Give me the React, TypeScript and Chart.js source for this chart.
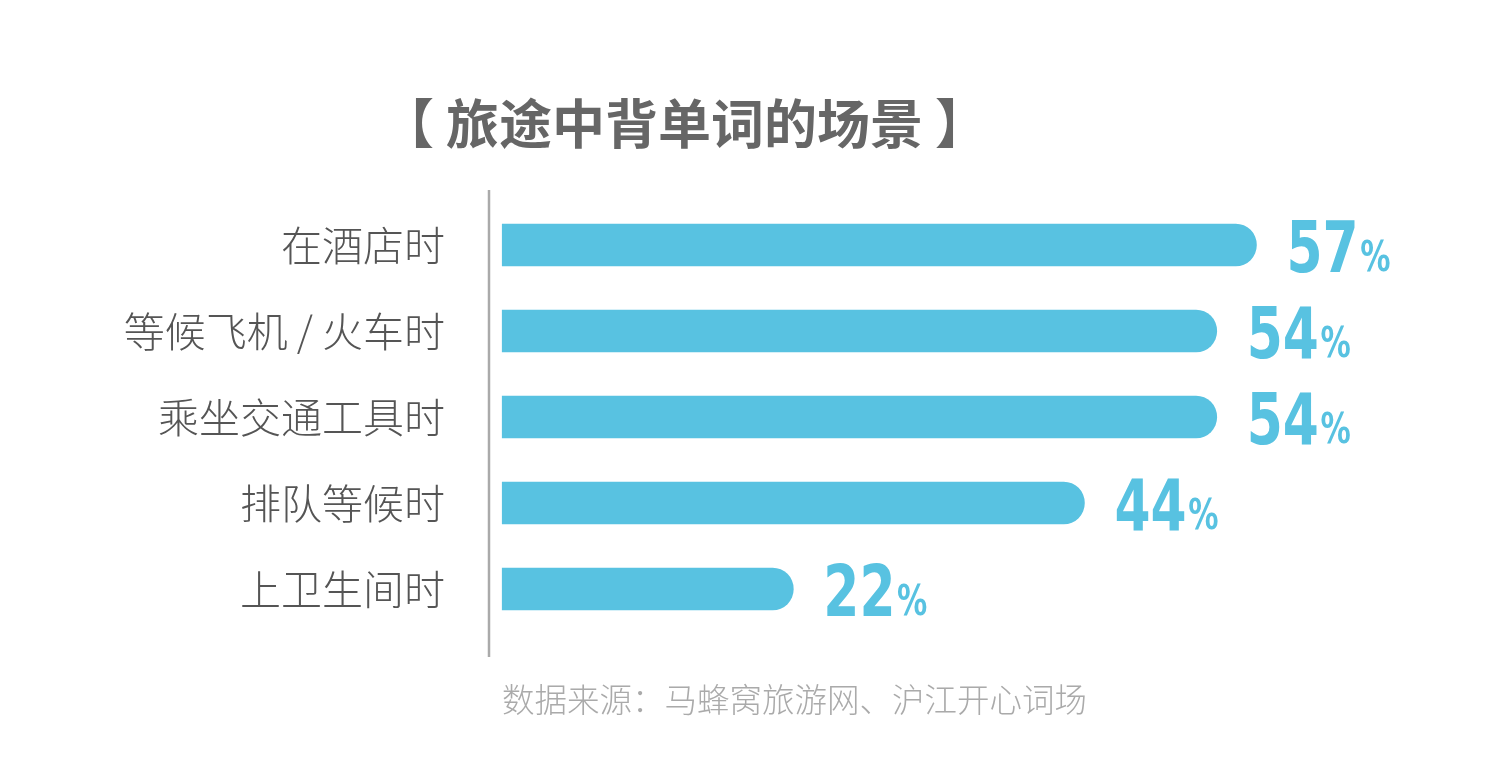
import { useEffect, useRef } from "react";
import Chart from "chart.js/auto";

const scenes = ["在酒店时", "等候飞机 / 火车时", "乘坐交通工具时", "排队等候时", "上卫生间时"];
const shares = [57, 54, 54, 44, 22];

const title = "【 旅途中背单词的场景 】";
const source = "数据来源：马蜂窝旅游网、沪江开心词场";

const barColor = "#58C2E1";
const cjk = '"Noto Sans CJK SC", "Noto Sans", sans-serif';
const narrow = '"Liberation Sans Narrow", "DejaVu Sans Condensed", sans-serif';

const decorPlugin = {
  id: "decor",
  afterDraw(chart: any) {
    const { ctx, chartArea } = chart;
    ctx.save();

    // title and source line
    ctx.fillStyle = "#666666";
    ctx.font = `bold 53px ${cjk}`;
    ctx.textAlign = "left";
    ctx.textBaseline = "middle";
    ctx.fillText(title, 381, 124);

    ctx.fillStyle = "#AAAAAA";
    ctx.font = `300 32.5px ${cjk}`;
    ctx.fillText(source, 502, 700);

    // axis line, longer than the bar rows
    ctx.strokeStyle = "#AAAAAA";
    ctx.lineWidth = 2.5;
    ctx.beginPath();
    ctx.moveTo(chartArea.left, 190);
    ctx.lineTo(chartArea.left, 657);
    ctx.stroke();

    // value labels
    const meta = chart.getDatasetMeta(0);
    ctx.fillStyle = barColor;
    ctx.textBaseline = "alphabetic";
    meta.data.forEach((bar: any, i: number) => {
      const x = bar.x + 30;
      const y = bar.y + 27;
      ctx.save();
      ctx.translate(x, y);
      ctx.scale(0.8, 1);
      ctx.font = `bold 72px ${narrow}`;
      const num = String(shares[i]);
      ctx.fillText(num, 0, 0);
      const w = ctx.measureText(num).width;
      ctx.font = `bold 42px ${narrow}`;
      ctx.fillText("%", w + 2, -1);
      ctx.restore();
    });

    ctx.restore();
  },
};

export default function App() {
  const canvasRef = useRef<HTMLCanvasElement>(null);

  useEffect(() => {
    if (!canvasRef.current) return;
    const chart = new Chart(canvasRef.current, {
      type: "bar",
      data: {
        labels: scenes,
        datasets: [
          {
            data: shares,
            backgroundColor: barColor,
            barThickness: 42,
            borderRadius: 21,
            borderSkipped: "start",
          },
        ],
      },
      options: {
        indexAxis: "y",
        animation: false,
        responsive: false,
        layout: { padding: { top: 202, bottom: 150, left: 0, right: 98 } },
        plugins: {
          legend: { display: false },
          tooltip: { enabled: false },
          title: { display: false },
        },
        scales: {
          x: {
            display: false,
            min: -1,
            max: 68,
          },
          y: {
            grid: { display: false, drawTicks: false },
            border: { display: false },
            afterFit: (s: any) => {
              s.width = 489;
            },
            ticks: {
              padding: 44,
              color: "#555555",
              font: { family: cjk, size: 41, weight: "300" },
            },
          },
        },
      },
      plugins: [decorPlugin],
    });
    return () => chart.destroy();
  }, []);

  return (
    <div style={{ position: "fixed", left: 0, top: 0, width: 1500, height: 782, background: "#fff" }}>
      <canvas ref={canvasRef} width={1500} height={782} style={{ width: 1500, height: 782 }} />
    </div>
  );
}
